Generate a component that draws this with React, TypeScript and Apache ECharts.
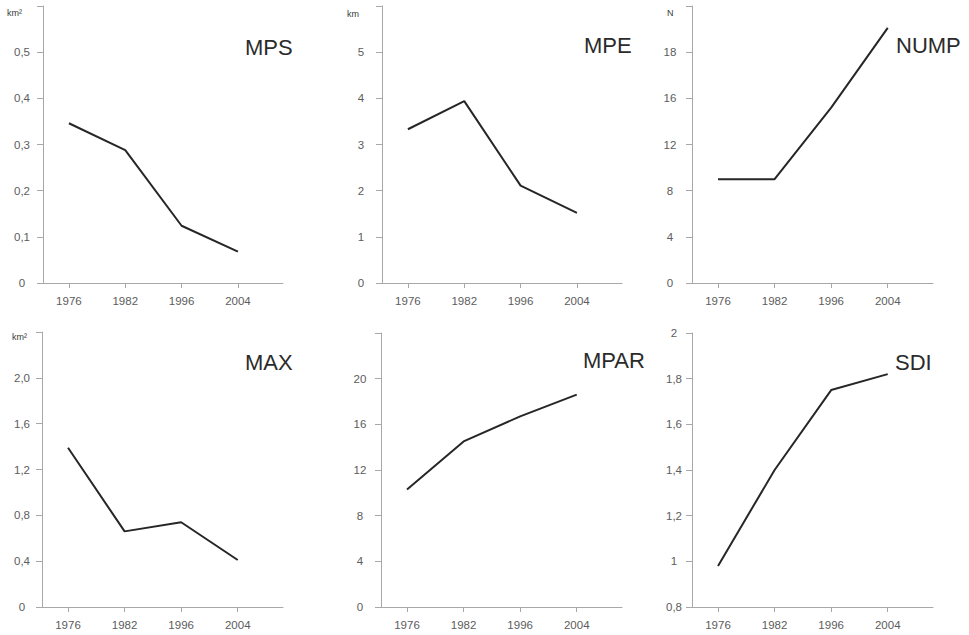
import React, { useEffect, useRef } from 'react';
import * as echarts from 'echarts';

// ---- data ----
const years = ['1976', '1982', '1996', '2004'];
const mpsValues = [0.346, 0.288, 0.124, 0.068];
const mpeValues = [3.33, 3.94, 2.11, 1.52];
const numpValues = [9, 9, 15.2, 22.1];
const maxValues = [1.39, 0.66, 0.74, 0.41];
const mparValues = [10.3, 14.5, 16.7, 18.6];
const sdiValues = [0.98, 1.4, 1.75, 1.82];

const mpsTicks = ['0', '0,1', '0,2', '0,3', '0,4', '0,5', ''];
const mpeTicks = ['0', '1', '2', '3', '4', '5', ''];
const numpTicks = ['0', '4', '8', '12', '16', '18', ''];
const maxTicks = ['0', '0,4', '0,8', '1,2', '1,6', '2,0', ''];
const mparTicks = ['0', '4', '8', '12', '16', '20', ''];
const sdiTicks = ['0,8', '1', '1,2', '1,4', '1,6', '1,8', '2'];

const titles = ['MPS', 'MPE', 'NUMP', 'MAX', 'MPAR', 'SDI'];
const units = ['km²', 'km', 'N', 'km²', '', ''];

// ---- layout / style ----
const panels = [
  { values: mpsValues, ticks: mpsTicks, min: 0, max: 0.6, interval: 0.1, left: 43, top: 6, width: 240, height: 277, labelMargin: 21, title: [245, 47], unit: [7, 13] },
  { values: mpeValues, ticks: mpeTicks, min: 0, max: 6, interval: 1, left: 382, top: 6, width: 240, height: 277, labelMargin: 21, title: [584, 45], unit: [347, 14] },
  { values: numpValues, ticks: numpTicks, min: 0, max: 24, interval: 4, left: 692, top: 6, width: 241, height: 277, labelMargin: 22, title: [896, 45], unit: [667, 13] },
  { values: maxValues, ticks: maxTicks, min: 0, max: 2.4, interval: 0.4, left: 42, top: 332, width: 241, height: 275, labelMargin: 20, title: [245, 362], unit: [12, 337] },
  { values: mparValues, ticks: mparTicks, min: 0, max: 24, interval: 4, left: 381, top: 333, width: 241, height: 274, labelMargin: 21, title: [583, 360], unit: [0, 0] },
  { values: sdiValues, ticks: sdiTicks, min: 0.8, max: 2.0, interval: 0.2, left: 692, top: 333, width: 241, height: 274, labelMargin: 18, title: [895, 362], unit: [0, 0] },
];

const AXIS_COLOR = '#a8a8a8';
const LABEL_COLOR = '#5c5c5c';
const LINE_COLOR = '#262626';
const FONT = 'Liberation Sans, Arial, Helvetica, sans-serif';

export default function App() {
  const ref = useRef<HTMLDivElement>(null);

  useEffect(() => {
    if (!ref.current) return;
    const chart = echarts.init(ref.current, undefined, { renderer: 'svg' });
    const idx = [0, 1, 2, 3];

    const grid = panels.map((p) => ({ left: p.left, top: p.top, width: p.width, height: p.height }));
    const xAxis = panels.map((_, i) => ({
      type: 'value',
      gridIndex: i,
      min: -0.46,
      max: 3.8,
      splitLine: { show: false },
      axisLine: { show: true, onZero: false, lineStyle: { color: AXIS_COLOR, width: 1 } },
      axisTick: { show: true, length: 5, customValues: idx, lineStyle: { color: AXIS_COLOR } },
      axisLabel: {
        customValues: idx,
        margin: 12,
        color: LABEL_COLOR,
        fontSize: 11.5,
        fontFamily: FONT,
        formatter: (v: number) => years[Math.round(v)] ?? '',
      },
    }));
    const yAxis = panels.map((p, i) => ({
      type: 'value',
      gridIndex: i,
      min: p.min,
      max: p.max,
      interval: p.interval,
      splitLine: { show: false },
      axisLine: { show: true, onZero: false, lineStyle: { color: AXIS_COLOR, width: 1 } },
      axisTick: { show: true, length: 6, lineStyle: { color: AXIS_COLOR } },
      axisLabel: {
        margin: p.labelMargin,
        align: 'center',
        color: LABEL_COLOR,
        fontSize: 11.5,
        fontFamily: FONT,
        formatter: (v: number) => p.ticks[Math.round((v - p.min) / p.interval)] ?? '',
      },
    }));
    const series = panels.map((p, i) => ({
      type: 'line',
      xAxisIndex: i,
      yAxisIndex: i,
      showSymbol: false,
      symbol: 'none',
      lineStyle: { color: LINE_COLOR, width: 2 },
      data: p.values.map((v, k) => [idx[k], v]),
    }));

    const graphic: any[] = [];
    panels.forEach((p, i) => {
      graphic.push({
        type: 'text',
        x: p.title[0],
        y: p.title[1],
        style: {
          text: titles[i],
          fill: '#2b2b2b',
          font: `22px ${FONT}`,
          textVerticalAlign: 'middle',
        },
      });
      if (units[i]) {
        graphic.push({
          type: 'text',
          x: p.unit[0],
          y: p.unit[1],
          style: {
            text: units[i],
            fill: '#3a3a3a',
            font: `9px ${FONT}`,
            textVerticalAlign: 'middle',
          },
        });
      }
    });

    chart.setOption({
      animation: false,
      backgroundColor: '#ffffff',
      textStyle: { fontFamily: FONT },
      grid,
      xAxis,
      yAxis,
      series,
      graphic,
    } as any);

    return () => chart.dispose();
  }, []);

  return (
    <div
      ref={ref}
      style={{ position: 'fixed', left: 0, top: 0, width: 969, height: 635, background: '#fff' }}
    />
  );
}
